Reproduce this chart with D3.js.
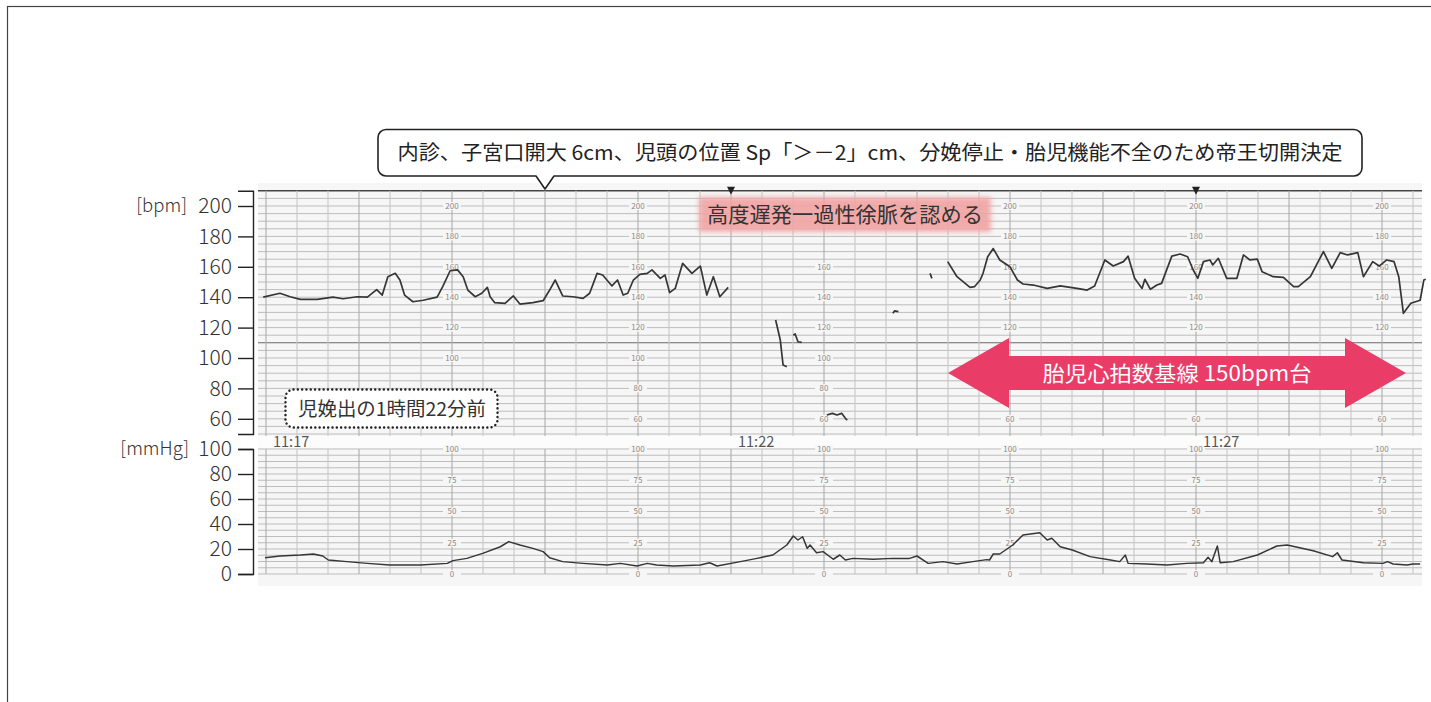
<!DOCTYPE html>
<html>
<head>
<meta charset="utf-8">
<script src="https://cdn.jsdelivr.net/npm/d3@7"></script>
<style>
  body { margin: 0; background: #fff; }
  svg { display: block; font-family: "Noto Sans CJK JP", "Noto Sans", sans-serif; }
</style>
</head>
<body>
<svg id="chart" width="1431" height="702"></svg>
<script>
(function () {
'use strict';
// CTG trace (FHR + uterine contractions) with annotations

// ---- data (time = minutes after 11:17) ----
const fhrTicks = [60, 80, 100, 120, 140, 160, 180, 200];
const ucTicks = [0, 20, 40, 60, 80, 100];
const paperFhrLabels = [200, 180, 160, 140, 120, 100, 80, 60];
const paperUcLabels = [100, 75, 50, 25, 0];
const paperLabelMinutes = [2, 4, 6, 8, 10, 12];
const timeLabels = [["11:17", 0], ["11:22", 5], ["11:27", 10]];
const markerMinutes = [5, 10];

// fetal heart rate, bpm — first continuous run
const fhrRun1 = [
  [-0.03,140],[0.15,142.6],[0.26,140.3],[0.37,138.6],[0.55,138.6],[0.72,140],[0.83,139],
  [0.98,140.3],[1.09,140],[1.19,145],[1.25,141.4],[1.31,153.5],[1.39,155.7],[1.44,151.3],
  [1.49,141.4],[1.58,137],[1.69,138],[1.84,140],[1.90,147],[1.98,157.4],[2.06,158],
  [2.12,153.5],[2.17,144.7],[2.25,140.3],[2.32,142.6],[2.38,146.5],[2.41,140.3],[2.46,136.4],
  [2.57,136],[2.66,140.8],[2.73,135.5],[2.87,136.4],[2.98,137.7],[3.05,144.7],[3.11,151.3],
  [3.19,140.8],[3.30,140.3],[3.41,139.2],[3.48,142.6],[3.56,155.7],[3.62,154.6],[3.72,147.4],
  [3.78,151.3],[3.84,141.4],[3.89,142.6],[3.95,151.3],[4.02,155],[4.10,155.7],[4.15,158],
  [4.24,152.4],[4.29,154.6],[4.34,143],[4.40,145.8],[4.48,162.3],[4.58,155.7],[4.67,160.5],
  [4.74,141.4],[4.81,153.5],[4.88,140.3],[4.97,146.5]
];
// short fragments during signal loss
const fhrFragA = [[5.48,125],[5.53,111.8],[5.56,95.4],[5.60,94.3]];
const fhrFragB = [[5.67,115],[5.69,115.8],[5.72,110.7],[5.76,110.3]];
const fhrFragC = [[6.03,62.5],[6.09,63.6],[6.14,62.5],[6.19,63.6],[6.23,60.3],[6.25,59.2]];
const fhrFragD = [[6.74,129.4],[6.76,131],[6.80,130.5]];
const fhrFragE = [[7.14,155.7],[7.16,152.4]];
// second continuous run
const fhrRun2 = [
  [7.33,163.4],[7.43,153.5],[7.57,146.5],[7.62,147],[7.68,151.3],[7.71,155.7],[7.73,160],
  [7.76,166.6],[7.82,172],[7.89,164.5],[8.00,160],[8.08,151.3],[8.14,148.7],[8.25,148],
  [8.40,145.8],[8.54,147.4],[8.72,145.8],[8.83,144.7],[8.91,147.4],[9.02,164.5],[9.11,160.5],
  [9.22,163.4],[9.27,167],[9.34,152.4],[9.42,145.8],[9.45,151.8],[9.51,145.2],[9.58,148],
  [9.63,149.1],[9.74,167],[9.83,168.4],[9.91,166.6],[9.97,157.9],[10.02,152.4],[10.08,163.4],
  [10.15,164.5],[10.18,161.2],[10.24,165.6],[10.33,152.4],[10.44,152.4],[10.51,167.8],
  [10.58,164.5],[10.66,165],[10.71,156.8],[10.83,153.5],[10.94,153.1],[11.05,147],[11.10,147],
  [11.23,153.5],[11.37,170],[11.46,159],[11.55,169.3],[11.63,167.8],[11.74,169.3],[11.80,153.5],
  [11.90,163.4],[11.97,160.5],[12.05,164.5],[12.13,163.4],[12.18,153.5],[12.23,129.4],
  [12.31,136],[12.41,138],[12.45,151.3],[12.47,151.8]
];
// uterine pressure, mmHg
const ucTrace = [
  [-0.01,13],[0.15,14.4],[0.37,15.2],[0.51,16],[0.61,14.4],[0.67,11.2],[0.87,9.9],[1.09,8.5],
  [1.33,7.2],[1.66,7.2],[1.95,8.5],[2.01,10.7],[2.16,12.5],[2.33,16.5],[2.52,21.8],[2.61,25.9],
  [2.73,23.2],[2.87,20.5],[2.98,17.9],[3.05,13],[3.19,9.9],[3.41,8.5],[3.67,7.2],[3.81,8.5],
  [3.99,6.4],[4.10,8.5],[4.20,7.2],[4.38,6.4],[4.67,7.2],[4.77,9],[4.85,6.4],[5.10,9.9],
  [5.28,12.5],[5.45,15.2],[5.60,23.2],[5.67,30.4],[5.72,27.2],[5.77,29.8],[5.82,20.5],
  [5.85,23.2],[5.92,17],[5.99,17.9],[6.10,11.8],[6.17,15.2],[6.23,11.2],[6.31,12.5],
  [6.53,11.8],[6.74,12.5],[6.92,12.5],[7.00,14.4],[7.12,8.5],[7.28,9.9],[7.43,8],[7.60,9.9],
  [7.75,11.5],[7.78,11.2],[7.82,16],[7.89,16],[8.03,23.2],[8.14,31.2],[8.32,33],[8.40,27.2],
  [8.45,28.6],[8.54,21.8],[8.67,19.2],[8.86,13.9],[9.08,11.2],[9.18,9.9],[9.24,15.2],
  [9.27,8.5],[9.47,8],[9.69,7.2],[9.90,8.5],[10.08,9],[10.13,13.4],[10.17,9.9],[10.23,22.4],
  [10.26,9],[10.40,9.9],[10.66,15.2],[10.87,22.4],[10.98,23.2],[11.09,21.4],[11.26,18.6],
  [11.47,13.9],[11.52,17],[11.57,11.2],[11.80,9],[12.01,8.5],[12.06,9.9],[12.12,8],
  [12.27,7.2],[12.33,8],[12.41,8]
];

// ---- layout ----
const svg = d3.select("#chart");
const x = d3.scaleLinear().domain([0, 12]).range([266, 1382]);
const yF = d3.scaleLinear().domain([50, 210]).range([434, 190.8]);
const yU = d3.scaleLinear().domain([0, 100]).range([574, 449]);
const tMin = x.invert(258), tMax = x.invert(1422);

const TEXT = "#333";
const PAPER = "#f6f6f6";
const GRID_H = "#bdbdbd";
const GRID_V = "#c6c6c6";
const GRID_MIN = "#adadad";
const TRACE = "#363636";
const ARROW = "#e93d68";

// boxes drawn on top of the paper (used to hide printed numbers underneath)
const covers = [
  [697, 195, 996, 234],   // pink label
  [946, 336, 1408, 410],  // arrow
  [283, 380, 500, 430]    // dotted note
];
const covered = (px, py) => covers.some(c => px >= c[0] - 8 && px <= c[2] + 8 && py >= c[1] - 4 && py <= c[3] + 4);

// outer frame
svg.append("rect").attr("x", 7.5).attr("y", 6.5).attr("width", 1430).attr("height", 700)
  .attr("fill", "none").attr("stroke", "#444").attr("stroke-width", 1.2);

// ---- paper ----
const paper = svg.append("g");
paper.append("rect").attr("x", x(tMin)).attr("y", 183)
  .attr("width", x(tMax) - x(tMin)).attr("height", 403).attr("fill", PAPER);
paper.append("rect").attr("x", x(tMin)).attr("y", yF(50) + 2)
  .attr("width", x(tMax) - x(tMin)).attr("height", yU(100) - yF(50) - 3).attr("fill", "#fcfcfc");

const vLines = d3.range(0, 38).map(k => k / 3);
function vGrid(y0, y1) {
  paper.append("g").selectAll("line").data(vLines).join("line")
    .attr("x1", d => x(d)).attr("x2", d => x(d))
    .attr("y1", y0).attr("y2", y1)
    .attr("stroke", (d, i) => i % 3 === 0 ? GRID_MIN : GRID_V)
    .attr("stroke-width", 1.1);
}
// fhr horizontal lines every 5 bpm
paper.append("g").selectAll("line").data(d3.range(50, 211, 5)).join("line")
  .attr("x1", x(tMin)).attr("x2", x(tMax))
  .attr("y1", d => yF(d)).attr("y2", d => yF(d))
  .attr("stroke", d => d === 110 ? "#6a6a6a" : (d === 210 ? "#444" : GRID_H))
  .attr("stroke-width", d => d === 110 ? 1.1 : (d === 210 ? 1.4 : 1));
vGrid(yF(210), yF(50) + 2);
// uc horizontal lines every 5 mmHg
paper.append("g").selectAll("line").data(d3.range(0, 101, 5)).join("line")
  .attr("x1", x(tMin)).attr("x2", x(tMax))
  .attr("y1", d => yU(d)).attr("y2", d => yU(d))
  .attr("stroke", GRID_H).attr("stroke-width", 1);
vGrid(yU(100), yU(0));

// printed scale numbers on the paper
function paperLabels(values, yScale) {
  const cells = [];
  paperLabelMinutes.forEach(m => values.forEach(v => {
    if (!covered(x(m), yScale(v))) cells.push([m, v]);
  }));
  const gl = paper.append("g");
  gl.selectAll("rect").data(cells).join("rect")
    .attr("x", d => x(d[0]) - 9).attr("y", d => yScale(d[1]) - 4)
    .attr("width", 18).attr("height", 8).attr("fill", PAPER);
  gl.selectAll("text").data(cells).join("text")
    .attr("x", d => x(d[0])).attr("y", d => yScale(d[1]))
    .attr("dy", "0.35em").attr("text-anchor", "middle")
    .attr("font-size", 8).attr("fill", "#8a8a8a")
    .text(d => d[1]);
}
paperLabels(paperFhrLabels, yF);
paperLabels(paperUcLabels, yU);

// event markers at the top edge
paper.append("g").selectAll("path").data(markerMinutes).join("path")
  .attr("d", d => `M${x(d) - 4},${yF(210) - 4}L${x(d) + 4},${yF(210) - 4}L${x(d)},${yF(210) + 4}Z`)
  .attr("fill", "#222");

// time labels
svg.append("g").selectAll("text").data(timeLabels).join("text")
  .attr("x", d => x(d[1]) + 7).attr("y", 447)
  .attr("font-size", 14.5).attr("fill", "#555")
  .text(d => d[0]);

// ---- traces ----
const lineF = d3.line().x(d => x(d[0])).y(d => yF(d[1]));
const lineU = d3.line().x(d => x(d[0])).y(d => yU(d[1]));
const fhrPieces = [fhrRun1, fhrFragA, fhrFragB, fhrFragC, fhrFragD, fhrFragE, fhrRun2];
svg.append("g").selectAll("path").data(fhrPieces).join("path")
  .attr("d", lineF).attr("fill", "none")
  .attr("stroke", TRACE).attr("stroke-width", 1.7).attr("stroke-linejoin", "round");
svg.append("path").datum(ucTrace).attr("d", lineU).attr("fill", "none")
  .attr("stroke", TRACE).attr("stroke-width", 1.5).attr("stroke-linejoin", "round");

// ---- left axes ----
function styleAxis(sel) {
  sel.attr("font-family", null).attr("font-size", null);
  sel.selectAll(".domain, .tick line").attr("stroke", "#222").attr("stroke-width", 1.4);
  sel.selectAll(".tick text").attr("font-size", 21).attr("font-weight", 300).attr("fill", TEXT);
}
svg.append("g").attr("transform", "translate(253,0)")
  .call(d3.axisLeft(yF).tickValues(fhrTicks).tickSize(15).tickSizeOuter(15).tickPadding(6))
  .call(styleAxis);
svg.append("g").attr("transform", "translate(253,0)")
  .call(d3.axisLeft(yU).tickValues(ucTicks).tickSize(15).tickSizeOuter(15).tickPadding(6))
  .call(styleAxis);
svg.append("text").attr("x", 187).attr("y", yF(200)).attr("dy", "0.32em")
  .attr("text-anchor", "end").attr("font-size", 18.5).attr("font-weight", 300).attr("fill", TEXT)
  .text("[bpm]");
svg.append("text").attr("x", 189).attr("y", yU(100)).attr("dy", "0.32em")
  .attr("text-anchor", "end").attr("font-size", 18.5).attr("font-weight", 300).attr("fill", TEXT)
  .text("[mmHg]");

// ---- annotations ----
const defs = svg.append("defs");
defs.append("filter").attr("id", "soft").attr("x", "-10%").attr("y", "-30%")
  .attr("width", "120%").attr("height", "160%")
  .append("feGaussianBlur").attr("stdDeviation", 2.5);

// callout at t = 3 min
const cx = x(3);
const callout = svg.append("g");
callout.append("path")
  .attr("d", `M386,129.5H1354a8,8 0 0 1 8,8V168a8,8 0 0 1 -8,8H${cx + 9}L${cx},189L${cx - 9},176H386a8,8 0 0 1 -8,-8V137.5a8,8 0 0 1 8,-8Z`)
  .attr("fill", "#fff").attr("stroke", "#222").attr("stroke-width", 1.6).attr("stroke-linejoin", "round");
callout.append("text").attr("x", 870).attr("y", 153).attr("dy", "0.36em")
  .attr("text-anchor", "middle").attr("font-size", 20).attr("fill", "#222")
  .attr("textLength", 945).attr("lengthAdjust", "spacingAndGlyphs")
  .text("内診、子宮口開大 6cm、児頭の位置 Sp「＞－2」cm、分娩停止・胎児機能不全のため帝王切開決定");

// late deceleration label
svg.append("rect").attr("x", 699).attr("y", 197).attr("width", 292).attr("height", 35)
  .attr("fill", "#f2a3a3").attr("opacity", 0.9).attr("filter", "url(#soft)");
svg.append("text").attr("x", 845).attr("y", 214.5).attr("dy", "0.36em")
  .attr("text-anchor", "middle").attr("font-size", 21).attr("fill", "#333")
  .attr("textLength", 276).attr("lengthAdjust", "spacingAndGlyphs")
  .text("高度遅発一過性徐脈を認める");

// baseline double arrow
const ax0 = 948, ax1 = 1406, ay = 373, body = 17, head = 35, hl = 61;
svg.append("path")
  .attr("d", `M${ax0},${ay}L${ax0 + hl},${ay - head}V${ay - body}H${ax1 - hl}V${ay - head}L${ax1},${ay}L${ax1 - hl},${ay + head}V${ay + body}H${ax0 + hl}V${ay + head}Z`)
  .attr("fill", ARROW);
svg.append("text").attr("x", 1177).attr("y", ay).attr("dy", "0.36em")
  .attr("text-anchor", "middle").attr("font-size", 21).attr("fill", "#fff")
  .attr("textLength", 269).attr("lengthAdjust", "spacingAndGlyphs")
  .text("胎児心拍数基線 150bpm台");

// dotted note box
svg.append("rect").attr("x", 285.5).attr("y", 389.5).attr("width", 212).attr("height", 38)
  .attr("rx", 8).attr("fill", "#fff").attr("stroke", "#222").attr("stroke-width", 2.4)
  .attr("stroke-dasharray", "0.1 4.2").attr("stroke-linecap", "round");
svg.append("text").attr("x", 392).attr("y", 409).attr("dy", "0.36em")
  .attr("text-anchor", "middle").attr("font-size", 19).attr("fill", "#333")
  .attr("textLength", 188).attr("lengthAdjust", "spacingAndGlyphs")
  .text("児娩出の1時間22分前");
})();
</script>
</body>
</html>
